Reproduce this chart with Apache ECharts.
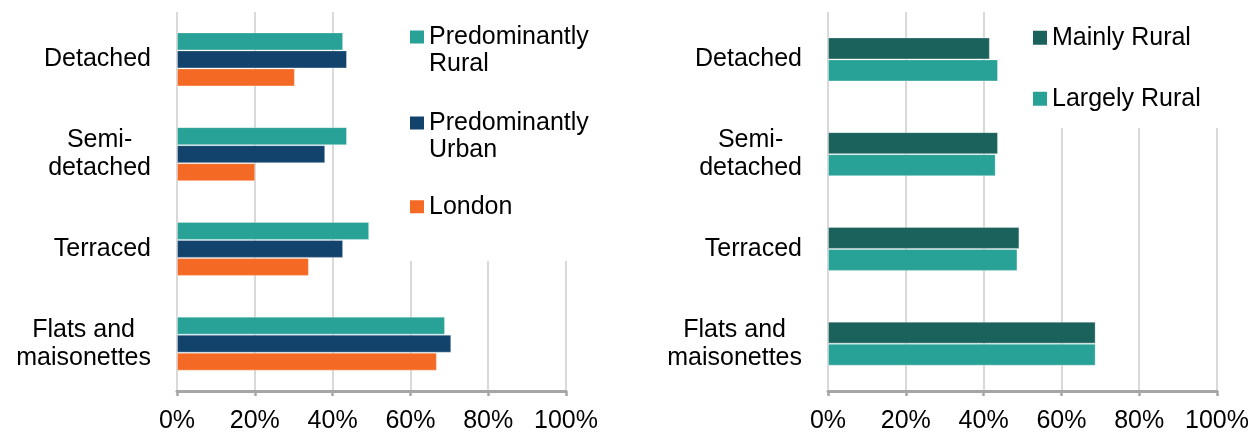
<!DOCTYPE html>
<html>
<head>
<meta charset="utf-8">
<script src="https://cdn.jsdelivr.net/npm/echarts@6/dist/echarts.min.js"></script>
<style>
  html, body { margin: 0; padding: 0; background: #ffffff; }
  #chart { width: 1248px; height: 432px; }
</style>
</head>
<body>
<div id="chart"></div>
<script>
// Dwelling types (line breaks as shown on the axis)
const categories = ['Detached', 'Semi-\ndetached', 'Terraced', 'Flats and\nmaisonettes'];
const xTicks = [0, 20, 40, 60, 80, 100];

// Left panel: share (%) by area type
const predominantlyRural = [42.7, 43.7, 49.4, 68.9];
const predominantlyUrban = [43.7, 38.1, 42.7, 70.5];
const london = [30.3, 20.1, 33.9, 66.8];

// Right panel: rural breakdown (%)
const mainlyRural = [41.6, 43.7, 49.2, 68.8];
const largelyRural = [43.7, 43.1, 48.7, 68.8];

const FONT = '"Liberation Sans", Arial, sans-serif';
const TEXT = '#000000';
const C_TEAL = '#28A197';
const C_NAVY = '#12436D';
const C_ORANGE = '#F46A25';
const C_DARKTEAL = '#1B625D';

// Centre each line of a wrapped category label within its block
function catLabel(v) {
  return v.split('\n').map(function (l) { return '{c|' + l + '}'; }).join('\n');
}

function xAxis(gridIndex) {
  return {
    type: 'value', gridIndex: gridIndex, min: xTicks[0], max: xTicks[xTicks.length - 1], interval: 20,
    axisLine: { show: true, lineStyle: { color: '#A6A6A6', width: 3 } },
    axisTick: { show: true, length: 5, lineStyle: { color: '#A6A6A6', width: 2.5 } },
    splitLine: { show: true, lineStyle: { color: '#D9D9D9', width: 2 } },
    axisLabel: { formatter: '{value}%', fontFamily: FONT, fontSize: 25, color: TEXT, margin: 18 }
  };
}

function yAxis(gridIndex) {
  return {
    type: 'category', gridIndex: gridIndex, data: categories, inverse: true,
    axisLine: { show: false }, axisTick: { show: false }, splitLine: { show: false },
    axisLabel: {
      formatter: catLabel, margin: 26, fontFamily: FONT, fontSize: 25, color: TEXT,
      rich: { c: { align: 'center', fontFamily: FONT, fontSize: 25, lineHeight: 28, color: TEXT } }
    }
  };
}

function bar(name, data, color, xi, width) {
  return {
    name: name, type: 'bar', xAxisIndex: xi, yAxisIndex: xi, data: data,
    barWidth: width, barGap: '0%',
    itemStyle: { color: color, borderColor: 'rgba(255,255,255,0.3)', borderWidth: 1 },
    emphasis: { disabled: true }
  };
}

const legendText = { fontFamily: FONT, fontSize: 25, color: TEXT, lineHeight: 27.5 };

const option = {
  animation: false,
  backgroundColor: '#ffffff',
  grid: [
    { left: 177, width: 389, top: 12, height: 379, outerBoundsMode: 'none' },
    { left: 828, width: 389, top: 12, height: 379, outerBoundsMode: 'none' }
  ],
  xAxis: [xAxis(0), xAxis(1)],
  yAxis: [yAxis(0), yAxis(1)],
  graphic: [
    // legend panels sit on a white box over the plot area
    { type: 'rect', shape: { x: 400, y: 0, width: 200, height: 261 }, style: { fill: '#ffffff' }, z: 3 },
    { type: 'rect', shape: { x: 1022, y: 0, width: 226, height: 128 }, style: { fill: '#ffffff' }, z: 3 }
  ],
  legend: [
    {
      data: ['Predominantly\nRural', 'Predominantly\nUrban'],
      orient: 'vertical', left: 410, top: 23, padding: 0, itemGap: 31,
      itemWidth: 14, itemHeight: 40,
      icon: 'path://M0,0h14v13h-14zM0,40h0',
      itemStyle: { borderWidth: 0 },
      textStyle: legendText, selectedMode: false
    },
    {
      data: ['London'],
      orient: 'vertical', left: 410, top: 193, padding: 0,
      itemWidth: 14, itemHeight: 13, icon: 'rect',
      itemStyle: { borderWidth: 0 },
      textStyle: legendText, selectedMode: false
    },
    {
      data: ['Mainly Rural', 'Largely Rural'],
      orient: 'vertical', left: 1033, top: 24, padding: 0, itemGap: 33.5,
      itemWidth: 14, itemHeight: 14, icon: 'rect',
      itemStyle: { borderWidth: 0 },
      textStyle: legendText, selectedMode: false
    }
  ],
  series: [
    bar('Predominantly\nRural', predominantlyRural, C_TEAL, 0, 18),
    bar('Predominantly\nUrban', predominantlyUrban, C_NAVY, 0, 18),
    bar('London', london, C_ORANGE, 0, 18),
    bar('Mainly Rural', mainlyRural, C_DARKTEAL, 1, 22),
    bar('Largely Rural', largelyRural, C_TEAL, 1, 22)
  ]
};

const chart = echarts.init(document.getElementById('chart'), null, { renderer: 'canvas' });
chart.setOption(option);
</script>
</body>
</html>
